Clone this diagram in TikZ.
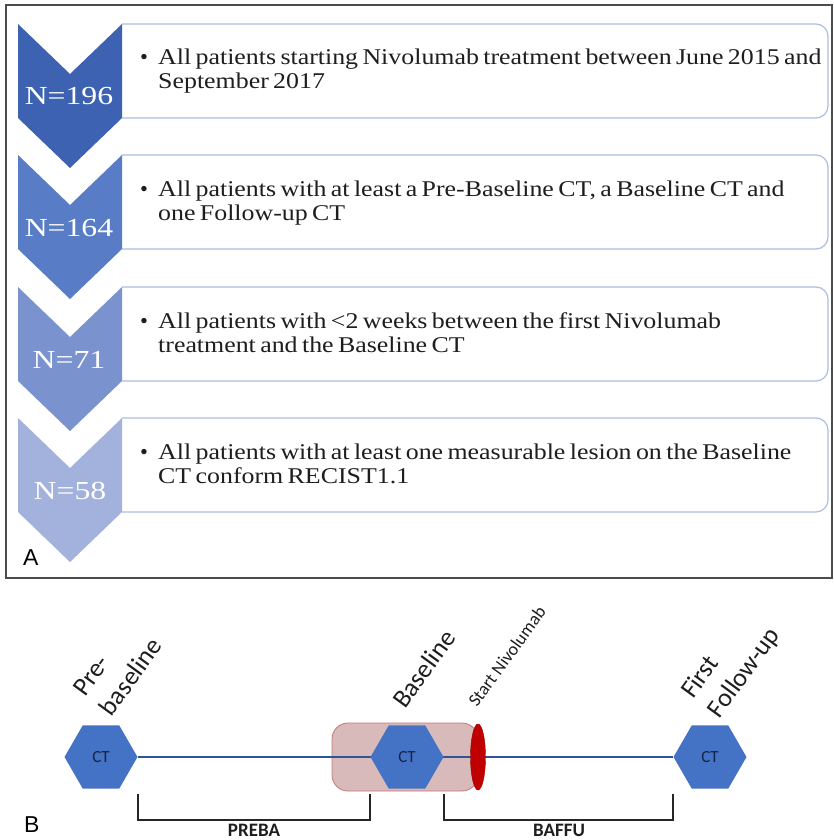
\documentclass[tikz,border=0pt]{standalone}
\usepackage{graphicx}
\usepackage{fontspec}
\setmainfont{Liberation Serif}
\setsansfont{Carlito}
\newfontfamily\arialfont{Liberation Sans}
\usetikzlibrary{shapes.geometric,backgrounds}
\definecolor{cA}{RGB}{61,98,177}
\definecolor{cB}{RGB}{88,124,197}
\definecolor{cC}{RGB}{122,147,207}
\definecolor{cD}{RGB}{163,178,220}
\definecolor{boxline}{RGB}{170,190,226}
\definecolor{ctblue}{RGB}{68,114,196}
\definecolor{lineblue}{RGB}{47,85,151}
\definecolor{pinkfill}{RGB}{216,186,186}
\definecolor{pinkline}{RGB}{196,120,120}
\definecolor{nivored}{RGB}{192,0,0}
\definecolor{txt}{RGB}{30,30,30}
\definecolor{cttxt}{RGB}{22,36,70}
\newcommand{\tightsp}{\spaceskip=0.17em plus 0.05em\relax}
\begin{document}
\begin{tikzpicture}[x=1pt,y=-1pt,
  stepbox/.style={draw=boxline, line width=1.2pt, fill=white, rounded corners=12pt},
  nlabel/.style={text=white, inner sep=0, anchor=base, font=\fontsize{26}{28}\selectfont},
  boxtext/.style={inner sep=0, anchor=base west, text=txt, font=\fontsize{22.5}{24}\selectfont\tightsp},
  bul/.style={inner sep=0, anchor=base, text=txt, font=\fontsize{22.5}{24}\selectfont},
  hex/.style={regular polygon, regular polygon sides=6, minimum size=73pt, inner sep=0,
    fill=ctblue, text=cttxt, font=\sffamily\fontsize{17}{18}\selectfont},
  rlabel/.style={rotate=54, anchor=base west, inner sep=0, text=txt},
  bracket/.style={line width=1.6pt, draw=black!85},
  blabel/.style={anchor=base, inner sep=0, text=txt, font=\sffamily\bfseries\fontsize{19}{19}\selectfont},
  panel/.style={inner sep=0, anchor=base west, text=black, font=\arialfont\fontsize{23}{23}\selectfont}
]
\useasboundingbox (0,0) rectangle (834,840);
\begin{pgfonlayer}{background}
  \fill[white] (0,0) rectangle (834,840);
\end{pgfonlayer}

% Panel A frame
\draw[line width=2pt, draw=black!70] (6,5) rectangle (832,578);

% boxes
\draw[stepbox] (122,24) -- (828,24) -- (828,118) -- (122,118);
\draw[stepbox] (122,155) -- (828,155) -- (828,249) -- (122,249);
\draw[stepbox] (122,287) -- (828,287) -- (828,381) -- (122,381);
\draw[stepbox] (122,418) -- (828,418) -- (828,512) -- (122,512);

% chevrons
\fill[cA] (18,24) -- (70,74) -- (122,24) -- (122,118) -- (70,168) -- (18,118) -- cycle;
\fill[cB] (18,155) -- (70,205) -- (122,155) -- (122,249) -- (70,299) -- (18,249) -- cycle;
\fill[cC] (18,287) -- (70,337) -- (122,287) -- (122,381) -- (70,431) -- (18,381) -- cycle;
\fill[cD] (18,418) -- (70,468) -- (122,418) -- (122,512) -- (70,562) -- (18,512) -- cycle;

\node[nlabel] (n1) at (69,105) {\scalebox{1.22}[1]{N=196}};
\node[nlabel] (n2) at (69,236) {\scalebox{1.22}[1]{N=164}};
\node[nlabel] (n3) at (69,368) {\scalebox{1.22}[1]{N=71}};
\node[nlabel] (n4) at (70,499) {\scalebox{1.22}[1]{N=58}};

\node[bul] (b1) at (144,65) {\textbullet};
\node[bul] (b2) at (144,196) {\textbullet};
\node[bul] (b3) at (144,328) {\textbullet};
\node[bul] (b4) at (144,459) {\textbullet};

\node[boxtext] (t1) at (158,65) {\scalebox{1.15}[1]{\begin{tabular}[t]{@{}l@{}}\tightsp All patients starting Nivolumab treatment between June 2015 and\\\tightsp September 2017\end{tabular}}};
\node[boxtext] (t2) at (158,196) {\scalebox{1.15}[1]{\begin{tabular}[t]{@{}l@{}}\tightsp All patients with at least a Pre-Baseline CT, a Baseline CT and\\\tightsp one Follow-up CT\end{tabular}}};
\node[boxtext] (t3) at (158,328) {\scalebox{1.15}[1]{\begin{tabular}[t]{@{}l@{}}\tightsp All patients with <2 weeks between the first Nivolumab\\\tightsp treatment and the Baseline CT\end{tabular}}};
\node[boxtext] (t4) at (158,459) {\scalebox{1.15}[1]{\begin{tabular}[t]{@{}l@{}}\tightsp All patients with at least one measurable lesion on the Baseline\\\tightsp CT conform RECIST1.1\end{tabular}}};

\node[panel] (pA) at (23,565) {A};

% Panel B
\node[hex] (h1) at (101,757) {CT};
\node[hex] (h2) at (407,757) {CT};
\node[hex] (h3) at (710,757) {CT};
\begin{pgfonlayer}{background}
  \node[draw=pinkline, fill=pinkfill, line width=0.8pt, rounded corners=16pt,
        minimum width=146pt, minimum height=68pt, inner sep=0] (win) at (405,757) {};
  \draw[lineblue, line width=1.3pt] (h1.east) -- (h3.west);
\end{pgfonlayer}
\node[ellipse, minimum width=15pt, minimum height=66pt, inner sep=0,
      fill=nivored, draw=nivored!80!black] (niv) at (478,757) {};

\node[rlabel, font=\sffamily\fontsize{26}{33}\selectfont] (lpre) at (85,698)
  {\begin{tabular}[t]{@{}l@{}}Pre-\\baseline\end{tabular}};
\node[rlabel, font=\sffamily\fontsize{26}{33}\selectfont] (lbase) at (405,710) {Baseline};
\node[rlabel, font=\sffamily\fontsize{18}{20}\selectfont] (lniv) at (477,708) {Start Nivolumab};
\node[rlabel, font=\sffamily\fontsize{26}{33}\selectfont] (lfu) at (693,700)
  {\begin{tabular}[t]{@{}l@{}}First\\Follow-up\end{tabular}};

\draw[bracket] (h1.east |- 0,794) -- (h1.east |- 0,820) -- (h2.west |- 0,820) -- (h2.west |- 0,794);
\draw[bracket] (h2.east |- 0,794) -- (h2.east |- 0,820) -- (h3.west |- 0,820) -- (h3.west |- 0,794);
\node[blabel] (preba) at (254,836) {PREBA};
\node[blabel] (baffu) at (559,836) {BAFFU};

\node[panel] (pB) at (24,832) {B};
\end{tikzpicture}
\end{document}
